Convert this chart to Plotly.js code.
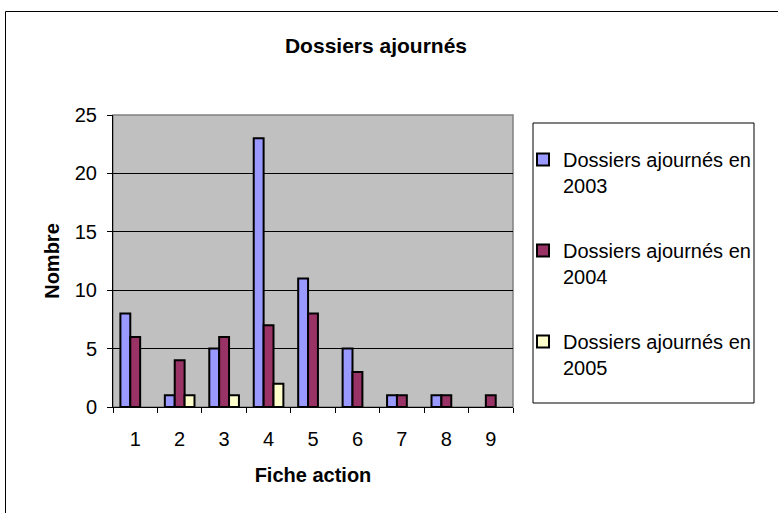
<!DOCTYPE html>
<html>
<head>
<meta charset="utf-8">
<script src="https://cdn.plot.ly/plotly-3.0.1.min.js"></script>
<style>html,body{margin:0;padding:0;background:#fff;}#chart{width:778px;height:513px;}</style>
</head>
<body>
<div id="chart"></div>
<script>
var categories = ["1","2","3","4","5","6","7","8","9"];
var seriesNames = ["Dossiers ajournés en<br>2003","Dossiers ajournés en<br>2004","Dossiers ajournés en<br>2005"];
var values2003 = [8,1,5,23,11,5,1,1,0];
var values2004 = [6,4,6,7,8,3,1,1,1];
var values2005 = [0,1,1,2,0,0,0,0,0];
var colors = ["#9999FF","#993366","#FFFFCC"];

var allValues = [values2003, values2004, values2005];
var FONT = '"Liberation Sans", Arial, sans-serif';

var traces = allValues.map(function(v, i){
  return {
    type: 'bar',
    x: categories,
    y: v.map(function(d){ return d === 0 ? null : d; }),
    name: seriesNames[i],
    legendgroup: 'g' + i,
    marker: {color: colors[i], line: {color: '#000000', width: 2}},
    hoverinfo: 'x+y'
  };
});

var layout = {
  width: 778, height: 513,
  margin: {l: 113, r: 265, t: 115, b: 106},
  paper_bgcolor: '#FFFFFF',
  plot_bgcolor: '#C0C0C0',
  font: {family: FONT, size: 20, color: '#000000'},
  barmode: 'group',
  bargap: 0.333,
  bargroupgap: 0,
  showlegend: true,
  title: {text: '<b>Dossiers ajournés</b>', font: {family: FONT, size: 21, color: '#000'},
          x: 376/778, xref: 'container', xanchor: 'center', y: 1 - 46/513, yref: 'container', yanchor: 'middle'},
  xaxis: {
    type: 'category',
    tickson: 'boundaries',
    ticks: 'outside', ticklen: 5, tickwidth: 1, tickcolor: '#000',
    showline: true, linecolor: '#000', linewidth: 1,
    showgrid: false, zeroline: false,
    ticklabelstandoff: 14,
    tickfont: {family: FONT, size: 20, color: '#000'},
    title: {text: '<b>Fiche action</b>', font: {family: FONT, size: 20, color: '#000'}, standoff: 18}
  },
  yaxis: {
    range: [0, 25], dtick: 5, tick0: 0,
    ticks: 'outside', ticklen: 5, tickwidth: 1, tickcolor: '#000',
    showline: true, linecolor: '#000', linewidth: 1,
    showgrid: true, gridcolor: '#000000', gridwidth: 1,
    zeroline: false,
    ticklabelstandoff: 6,
    tickfont: {family: FONT, size: 20, color: '#000'},
    title: {text: '<b>Nombre</b>', font: {family: FONT, size: 20, color: '#000'}, standoff: 9}
  },
  legend: {
    x: (523 - 113) / 400, xanchor: 'left',
    y: (407 - 140) / 292, yanchor: 'top',
    bgcolor: 'rgba(0,0,0,0)', borderwidth: 0,
    font: {family: FONT, size: 20, color: '#000'},
    traceorder: 'grouped', tracegroupgap: 36,
    valign: 'top'
  },
  shapes: [
    {type: 'rect', xref: 'paper', yref: 'paper', x0: 0, x1: 1, y0: 0, y1: 1,
     line: {color: '#808080', width: 1.5}, layer: 'below'},
    {type: 'rect', xref: 'paper', yref: 'paper',
     x0: (533 - 113) / 400, x1: (754 - 113) / 400,
     y0: (407 - 403) / 292, y1: (407 - 123) / 292,
     line: {color: '#000', width: 1}, fillcolor: 'rgba(0,0,0,0)'},
    {type: 'rect', xref: 'paper', yref: 'paper',
     x0: (5.5 - 113) / 400, x1: 3,
     y0: -2, y1: (407 - 11.5) / 292,
     line: {color: '#000', width: 1}, fillcolor: 'rgba(0,0,0,0)'}
  ]
};

Plotly.newPlot('chart', traces, layout, {displayModeBar: false, staticPlot: true});
</script>
</body>
</html>
